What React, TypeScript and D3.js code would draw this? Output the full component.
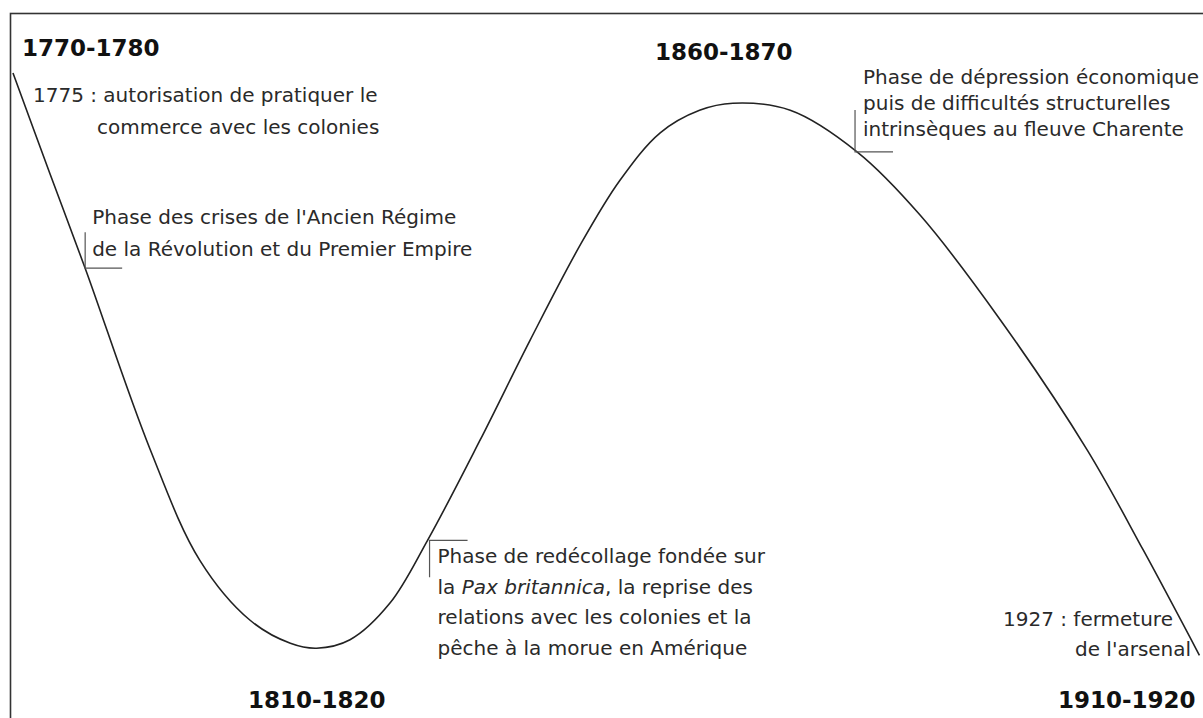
import React from "react";
import * as d3 from "d3";

// schematic position along the period (0-100) and relative activity level (0-100)
const phasePos = [0.25, 3.35, 6.3, 11.7, 15.9, 20.1, 23.5, 25.7, 28.5, 31.85, 35.0, 39.4, 43.6, 47.8, 51.1, 54.5, 57.8, 60.6, 65.4, 71.0, 76.3, 83.0, 90.3, 95.0, 99.7];
const activity = [91.5, 77.2, 63.8, 38.3, 22.4, 13.9, 10.6, 9.9, 11.1, 16.3, 25.2, 39.4, 53.6, 67.1, 76.2, 83.0, 86.2, 87.2, 86.2, 80.3, 71.3, 56.5, 38.0, 23.8, 8.9];

const periodLabels = ["1770-1780", "1810-1820", "1860-1870", "1910-1920"];

const noteStart = ["1775 : autorisation de pratiquer le", "commerce avec les colonies"];
const noteCrises = ["Phase des crises de l'Ancien Régime", "de la Révolution et du Premier Empire"];
const noteRecovery = ["Phase de redécollage fondée sur", "la |Pax britannica|, la reprise des", "relations avec les colonies et la", "pêche à la morue en Amérique"];
const noteDepression = ["Phase de dépression économique", "puis de difficultés structurelles", "intrinsèques au fleuve Charente"];
const noteEnd = ["1927 : fermeture", "de l'arsenal"];

// index of the curve point each leader line is attached to
const crisesAt = 2;
const recoveryAt = 10;
const depressionAt = 19;

const W = 1203, H = 718;

export default function App() {
  const x = d3.scaleLinear().domain([0, 100]).range([10, 1203]);
  const y = d3.scaleLinear().domain([0, 100]).range([718, 13]);

  const pts: [number, number][] = phasePos.map((p, i) => [p, activity[i]]);
  const line = d3.line<[number, number]>()
    .x(d => x(d[0]))
    .y(d => y(d[1]))
    .curve(d3.curveCatmullRom.alpha(0.5));

  const pt = (i: number) => [x(phasePos[i]), y(activity[i])];
  const [ax, ay] = pt(crisesAt);
  const [bx, by] = pt(recoveryAt);
  const [cx, cy] = pt(depressionAt);

  const noteStyle = { fontFamily: "DejaVu Sans", fontSize: 20, fill: "#2a2a2a" };
  const boldStyle = { fontFamily: "DejaVu Sans", fontSize: 23, fontWeight: 700, fill: "#111" };

  // render a line that may hold |italic| parts
  const rich = (s: string) =>
    s.split("|").map((part, k) => (
      <tspan key={k} fontStyle={k % 2 === 1 ? "italic" : "normal"}>{part}</tspan>
    ));

  return (
    <svg width={W} height={H} style={{ position: "absolute", left: 0, top: 0, background: "#fff" }}>
      <rect x={10.5} y={13.5} width={1210} height={720} fill="none" stroke="#333" strokeWidth={1.6} />

      <path d={line(pts) || ""} fill="none" stroke="#222" strokeWidth={1.6} />

      {/* leader lines */}
      <polyline points={`${ax},${ay - 36} ${ax},${ay} ${ax + 37},${ay}`} fill="none" stroke="#555" strokeWidth={1.2} />
      <polyline points={`${bx + 40},${by} ${bx + 2},${by} ${bx + 2},${by + 37}`} fill="none" stroke="#555" strokeWidth={1.2} />
      <polyline points={`${cx - 2},${cy - 42} ${cx - 2},${cy} ${cx + 36},${cy}`} fill="none" stroke="#555" strokeWidth={1.2} />

      {/* period labels */}
      <text x={22} y={56} style={boldStyle}>{periodLabels[0]}</text>
      <text x={248} y={708} style={boldStyle}>{periodLabels[1]}</text>
      <text x={655} y={60} style={boldStyle}>{periodLabels[2]}</text>
      <text x={1058} y={708} style={boldStyle}>{periodLabels[3]}</text>

      {/* annotations */}
      <text style={noteStyle}>
        <tspan x={33} y={102}>{noteStart[0]}</tspan>
        <tspan x={97} y={134}>{noteStart[1]}</tspan>
      </text>
      <text style={noteStyle}>
        {noteCrises.map((s, i) => (
          <tspan key={i} x={ax + 7} y={ay - 44 + i * 32}>{s}</tspan>
        ))}
      </text>
      <text style={noteStyle}>
        {noteRecovery.map((s, i) => (
          <tspan key={i} x={bx + 10} y={by + 23 + i * 30.5}>{rich(s)}</tspan>
        ))}
      </text>
      <text style={noteStyle}>
        {noteDepression.map((s, i) => (
          <tspan key={i} x={cx + 6} y={cy - 68 + i * 26}>{s}</tspan>
        ))}
      </text>
      <text style={noteStyle}>
        <tspan x={1003} y={626}>{noteEnd[0]}</tspan>
        <tspan x={1075} y={656}>{noteEnd[1]}</tspan>
      </text>
    </svg>
  );
}
